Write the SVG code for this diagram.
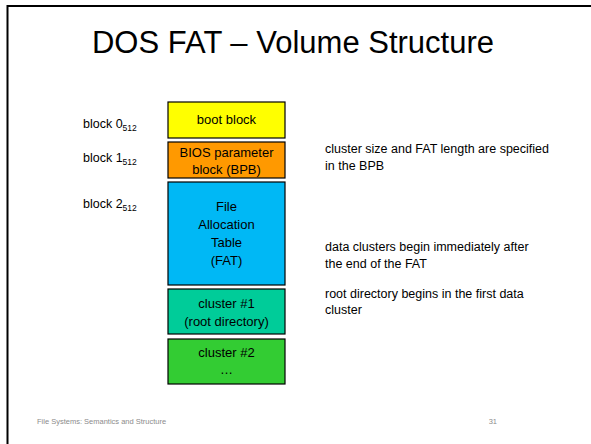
<svg xmlns="http://www.w3.org/2000/svg" width="591" height="444" viewBox="0 0 591 444">
<style>
text{font-family:"Liberation Sans",Arial,sans-serif;fill:#000}
.box{stroke:#000;stroke-width:1.2}
.bt{font-size:13px;text-anchor:middle}
.lbl{font-size:12.5px}
.note{font-size:12.5px}
.sub{font-size:8.5px}
.foot{font-size:7.5px;fill:#8c8c8c}
</style>
<rect width="591" height="444" fill="#fff"/>
<g id="frame" fill="none" stroke="#000" stroke-width="2">
<path d="M7.5 444 V6 H591"/>
</g>
<text id="title" x="293" y="53" font-size="31" text-anchor="middle">DOS FAT – Volume Structure</text>
<g id="labels" class="lbl">
<text class="lbl" x="83" y="128">block 0<tspan class="sub" dy="3">512</tspan></text>
<text class="lbl" x="83" y="162">block 1<tspan class="sub" dy="3">512</tspan></text>
<text class="lbl" x="83" y="208">block 2<tspan class="sub" dy="3">512</tspan></text>
</g>
<g id="boot">
<rect class="box" x="168" y="102" width="117" height="36" fill="#ffff00"/>
<text class="bt" x="226.5" y="124">boot block</text>
</g>
<g id="bpb">
<rect class="box" x="168" y="142" width="117" height="36" fill="#ff9900"/>
<text class="bt" x="226.5" y="157">BIOS parameter</text>
<text class="bt" x="226.5" y="174">block (BPB)</text>
</g>
<g id="fat">
<rect class="box" x="168" y="182" width="117" height="103" fill="#00b8f5"/>
<text class="bt" x="226.5" y="211">File</text>
<text class="bt" x="226.5" y="229">Allocation</text>
<text class="bt" x="226.5" y="247">Table</text>
<text class="bt" x="226.5" y="265">(FAT)</text>
</g>
<g id="cluster1">
<rect class="box" x="168" y="289" width="117" height="45" fill="#00cc99"/>
<text class="bt" x="226.5" y="308">cluster #1</text>
<text class="bt" x="226.5" y="326">(root directory)</text>
</g>
<g id="cluster2">
<rect class="box" x="168" y="339" width="117" height="45" fill="#33cc33"/>
<text class="bt" x="226.5" y="357">cluster #2</text>
<text class="bt" x="226.5" y="374">…</text>
</g>
<g id="notes" class="note">
<text class="note" x="325" y="153">cluster size and FAT length are specified</text>
<text class="note" x="325" y="170">in the BPB</text>
<text class="note" x="325" y="251">data clusters begin immediately after</text>
<text class="note" x="325" y="268">the end of the FAT</text>
<text class="note" x="325" y="298">root directory begins in the first data</text>
<text class="note" x="325" y="314">cluster</text>
</g>
<g id="footer">
<text class="foot" x="37" y="424">File Systems: Semantics and Structure</text>
<text class="foot" x="497" y="424" text-anchor="end">31</text>
</g>
</svg>
